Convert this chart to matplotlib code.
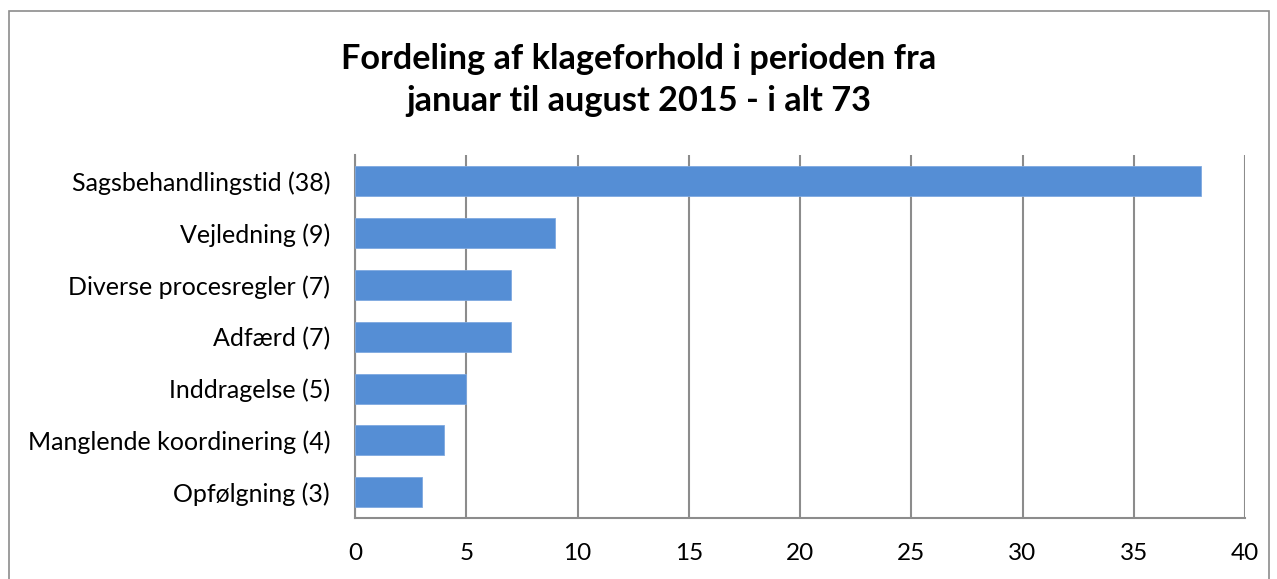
import matplotlib.pyplot as plt
from matplotlib.patches import Rectangle

categories = [
    "Sagsbehandlingstid (38)",
    "Vejledning (9)",
    "Diverse procesregler (7)",
    "Adfærd (7)",
    "Inddragelse (5)",
    "Manglende koordinering (4)",
    "Opfølgning (3)",
]
values = [38, 9, 7, 7, 5, 4, 3]
xticks = [0, 5, 10, 15, 20, 25, 30, 35, 40]

plt.rcParams['font.family'] = ['Lato', 'DejaVu Sans']

fig = plt.figure(figsize=(12.77, 5.79), dpi=100)
ax = fig.add_axes([0.278, 0.105, 0.697, 0.627])

y = list(range(len(categories)))
ax.barh(y, values, height=0.58, color="#558ED5", edgecolor="#7fa9e0", linewidth=0.6, zorder=3)
ax.set_ylim(len(categories) - 0.5, -0.5)
ax.set_xlim(0, 40)
ax.set_xticks(xticks)
ax.set_yticks(y)
ax.set_yticklabels(categories, fontsize=18)
ax.tick_params(axis='x', labelsize=17.5, length=0, pad=18)
ax.tick_params(axis='y', length=0, pad=18)
ax.grid(axis='x', color="#8c8c8c", linewidth=1.5, zorder=0)
for s in ['top', 'right']:
    ax.spines[s].set_visible(False)
ax.spines['left'].set_color("#8c8c8c")
ax.spines['bottom'].set_color("#8c8c8c")
ax.spines['left'].set_linewidth(1.5)
ax.spines['bottom'].set_linewidth(1.5)

fig.text(0.5, 0.862, "Fordeling af klageforhold i perioden fra\njanuar til august 2015 - i alt 73",
         ha='center', va='center', fontsize=24.7, fontweight='bold', linespacing=1.4)

fig.patches.append(Rectangle((9 / 1277, -0.05), 1260 / 1277, 1.05 - 11 / 579,
                             transform=fig.transFigure, fill=False,
                             edgecolor="#8c8c8c", linewidth=1.2))

fig.savefig("out.png", dpi=100)
